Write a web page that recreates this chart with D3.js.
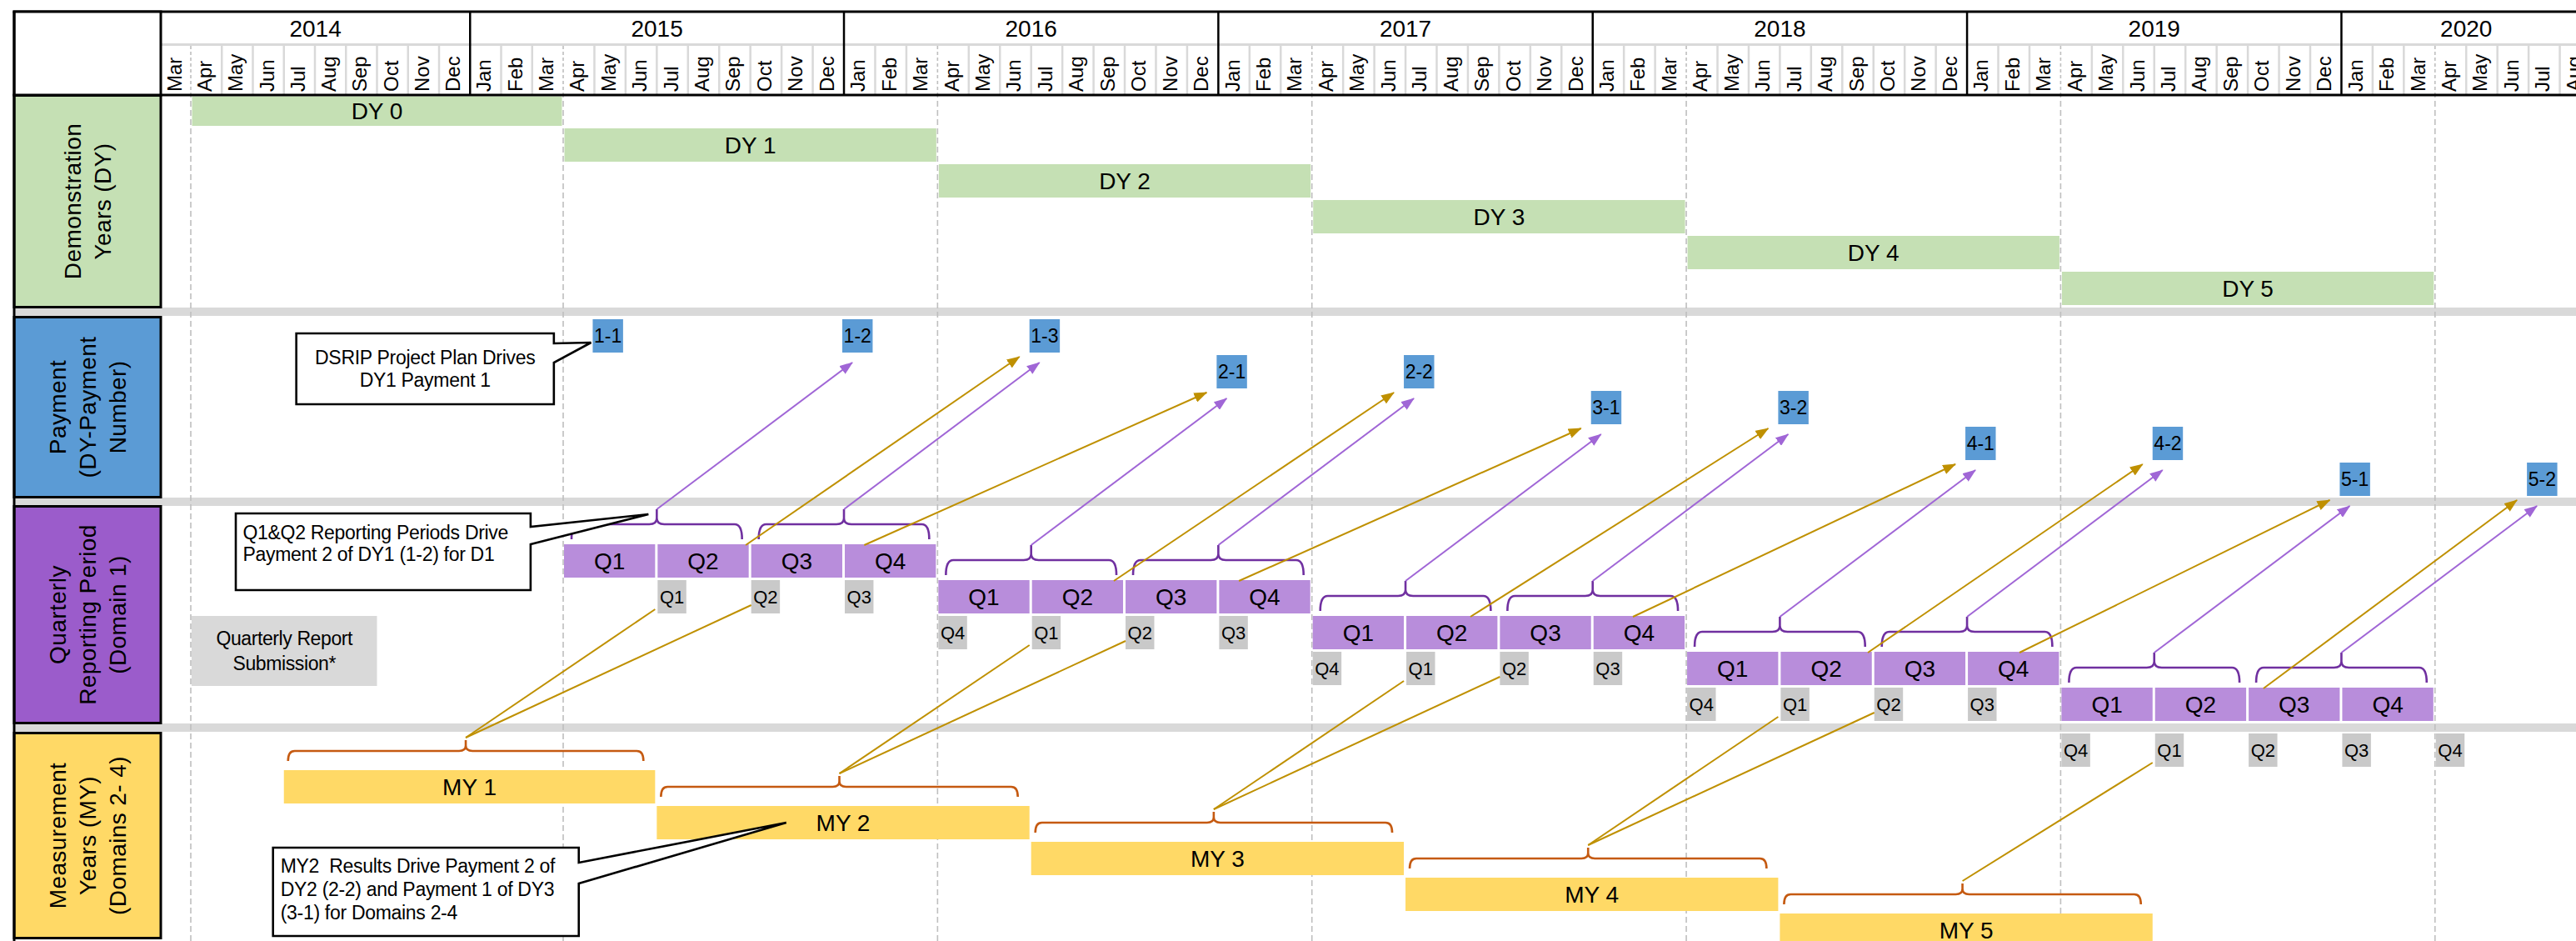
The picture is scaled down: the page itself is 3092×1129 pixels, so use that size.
<!DOCTYPE html>
<html>
<head>
<meta charset="utf-8">
<script src="https://cdn.jsdelivr.net/npm/d3@7/dist/d3.min.js"></script>
<style>
html,body{margin:0;padding:0;background:#fff;}
svg{display:block;}
text{font-family:"Liberation Sans",Arial,Helvetica,sans-serif;fill:#000;}
</style>
</head>
<body>
<svg id="chart" width="3092" height="1129"></svg>
<script>
// ---------------- data ----------------
const years = ["2014","2015","2016","2017","2018","2019","2020"];
const yearStartMonth = [0, 10, 22, 34, 46, 58, 70];
const yearEndMonth   = [10, 22, 34, 46, 58, 70, 78];
const monthNames = ["Jan","Feb","Mar","Apr","May","Jun","Jul","Aug","Sep","Oct","Nov","Dec"];
const firstMonthOfTimeline = 2;   // index 0 = Mar 2014
const monthCount = 78;            // Mar 2014 .. Aug 2020

const dyLabels = ["DY 0","DY 1","DY 2","DY 3","DY 4","DY 5"];
const dyStartMonth = [1, 13, 25, 37, 49, 61];
const dyLengthMonths = 12;

const quarterLabels = ["Q1","Q2","Q3","Q4"];
const quarterDY = [1, 2, 3, 4, 5];

const paymentLabels = ["1-1","1-2","1-3","2-1","2-2","3-1","3-2","4-1","4-2","5-1","5-2"];
const paymentMonth  = [14, 22, 28, 34, 40, 46, 52, 58, 64, 70, 76];
const paymentRow    = [0, 0, 0, 1, 1, 2, 2, 3, 3, 4, 4];

const reportLabels = ["Q1","Q2","Q3", "Q4","Q1","Q2","Q3", "Q4","Q1","Q2","Q3", "Q4","Q1","Q2","Q3", "Q4","Q1","Q2","Q3","Q4"];
const reportMonth  = [16,19,22, 25,28,31,34, 37,40,43,46, 49,52,55,58, 61,64,67,70,73];
const reportRow    = [1,1,1, 2,2,2,2, 3,3,3,3, 4,4,4,4, 5,5,5,5,5];

const myLabels = ["MY 1","MY 2","MY 3","MY 4","MY 5"];
const myStartMonth = [4, 16, 28, 40, 52];
const myLengthMonths = 12;

// purple arrows: quarter pair (half year) of a DY -> payment
const pairDY      = [1,1,2,2,3,3,4,4,5,5];
const pairHalf    = [0,1,0,1,0,1,0,1,0,1];
const pairPayment = ["1-2","1-3","2-1","2-2","3-1","3-2","4-1","4-2","5-1","5-2"];

// gold arrows: quarterly results -> payment
const goldDY        = [1,1,2,2,3,3,4,4,5];
const goldFromMonth = [18.85, 22.65, 30.65, 34.66, 42.08, 47.29, 54.82, 59.68, 67.5];
const goldPayment   = ["1-3","2-1","2-2","3-1","3-2","4-1","4-2","5-1","5-2"];

// gold lines: measurement year -> quarterly report submission (index into report arrays)
const myLinkMY     = [1,1,2,2,3,3,4,4,5];
const myLinkReport = [0,1,4,5,8,9,12,13,16];

const sectionLabels = [
  ["Demonstration","Years (DY)"],
  ["Payment","(DY-Payment","Number)"],
  ["Quarterly","Reporting Period","(Domain 1)"],
  ["Measurement","Years (MY)","(Domains 2- 4)"]
];
const callout1Lines = ["DSRIP Project Plan Drives","DY1 Payment 1"];
const callout2Lines = ["Q1&Q2 Reporting Periods Drive","Payment 2 of DY1 (1-2) for D1"];
const callout3Lines = ["MY2  Results Drive Payment 2 of","DY2 (2-2) and Payment 1 of DY3","(3-1) for Domains 2-4"];
const reportBoxLines = ["Quarterly Report","Submission*"];

// ---------------- layout ----------------
const W = 3092, H = 1129;
const LEFT = 17, COLR = 193, TOP = 14, HDR = 114;
const BH = 40;
const C = {
  green:"#C5E0B4", blue:"#5B9BD5", purpleDark:"#9B5CCB", purpleLight:"#B88DDB",
  yellow:"#FFD966", band:"#D9D9D9", repGray:"#C9C9C9", gold:"#BF9000",
  arrowPurple:"#A066D6", bracePurple:"#7030A0", braceOrange:"#C55A11", dash:"#BFBFBF"
};
const sectionColors = [C.green, C.blue, C.purpleDark, C.yellow];
const sectionRanges = [[114.5,368.5],[380.5,596.5],[607.5,867.5],[879.5,1125.5]];
const bandRanges = [[369,379],[597,607],[868,878]];

const x = d3.scaleLinear().domain([0,1,13,78]).range([193,229,676,3110]);
const yDY  = d3.scaleLinear().domain([0,5]).range([111,326]);
const yPay = d3.scaleLinear().domain([0,4]).range([383,555]);
const yQ   = d3.scaleLinear().domain([1,5]).range([653,825]);
const yRep = d3.scaleLinear().domain([1,4,5]).range([696,825,880]);
const yMY  = d3.scaleLinear().domain([1,5]).range([924,1096]);

const svg = d3.select("#chart");
svg.append("rect").attr("width",W).attr("height",H).attr("fill","#fff");
const defs = svg.append("defs");
defs.append("clipPath").attr("id","plotClip").append("rect")
  .attr("x",COLR).attr("y",HDR+1.5).attr("width",W-COLR).attr("height",H-HDR);
function marker(id,color){
  defs.append("marker").attr("id",id).attr("viewBox","0 0 16 12")
    .attr("refX",15).attr("refY",6).attr("markerWidth",16).attr("markerHeight",12)
    .attr("markerUnits","userSpaceOnUse").attr("orient","auto")
    .append("path").attr("d","M0,0 L16,6 L0,12 Z").attr("fill",color);
}
marker("mGold",C.gold);
marker("mPurple",C.arrowPurple);

// separator bands
svg.append("g").selectAll("rect").data(bandRanges).join("rect")
  .attr("x",LEFT).attr("y",d=>d[0]).attr("width",W-LEFT).attr("height",d=>d[1]-d[0]).attr("fill",C.band);

// dashed demonstration-year boundaries (April)
const monthIdx = d3.range(monthCount);
const monthName = i => monthNames[(i+firstMonthOfTimeline)%12];
const aprIdx = monthIdx.filter(i => monthName(i)==="Apr");
svg.append("g").selectAll("line").data(aprIdx).join("line")
  .attr("x1",d=>x(d)).attr("x2",d=>x(d)).attr("y1",55).attr("y2",H)
  .attr("stroke",C.dash).attr("stroke-width",1.6).attr("stroke-dasharray","7,4");

const plot = svg.append("g").attr("clip-path","url(#plotClip)");

function label(g, txt, cx, cy, fs){
  g.append("text").attr("x",cx).attr("y",cy+0.35*fs).attr("text-anchor","middle")
    .attr("font-size",fs).text(txt);
}

// DY bars
dyLabels.forEach((lab,i)=>{
  const x0 = x(dyStartMonth[i])+1.5, x1 = x(dyStartMonth[i]+dyLengthMonths)-1.5;
  const y0 = yDY(i);
  plot.append("rect").attr("x",x0).attr("y",y0).attr("width",x1-x0).attr("height",BH).attr("fill",C.green);
  const vis0 = Math.max(y0, HDR+1.5);
  label(plot, lab, (x0+x1)/2, (vis0+y0+BH)/2, 28);
});

// payment boxes
const payPos = {};
paymentLabels.forEach((lab,i)=>{
  const m = paymentMonth[i];
  const x0 = x(m)-2, w = x(m+1)-x(m)-1, y0 = yPay(paymentRow[i]);
  payPos[lab] = {x:x0, y:y0, w:w};
  plot.append("rect").attr("x",x0).attr("y",y0).attr("width",w).attr("height",BH).attr("fill",C.blue);
  label(plot, lab, x0+w/2, y0+BH/2, 23);
});

// quarterly reporting periods
quarterDY.forEach(k=>{
  quarterLabels.forEach((q,j)=>{
    const m = dyStartMonth[k]+3*j;
    const x0 = x(m)+1, x1 = x(m+3)-2, y0 = yQ(k);
    plot.append("rect").attr("x",x0).attr("y",y0).attr("width",x1-x0).attr("height",BH).attr("fill",C.purpleLight);
    label(plot, q, (x0+x1)/2, y0+BH/2, 28);
  });
});

// quarterly report submissions
const repPos = [];
reportLabels.forEach((lab,i)=>{
  const m = reportMonth[i];
  const x0 = x(m)+1, w = x(m+1)-x(m)-3, y0 = yRep(reportRow[i]);
  repPos.push({x:x0,y:y0,w:w,lab:lab});
  plot.append("rect").attr("x",x0).attr("y",y0).attr("width",w).attr("height",BH).attr("fill",C.repGray);
  label(plot, lab, x0+w/2, y0+BH/2, 22);
});

// measurement years
const myTip = [];
myLabels.forEach((lab,i)=>{
  const s = myStartMonth[i];
  const x0 = x(s), x1 = x(s+myLengthMonths)-2, y0 = yMY(i+1);
  plot.append("rect").attr("x",x0).attr("y",y0).attr("width",x1-x0).attr("height",BH).attr("fill",C.yellow);
  label(plot, lab, (x0+x1)/2, y0+BH/2, 28);
});

// legend box "Quarterly Report Submission*"
{
  const x0 = x(1)+1, x1 = x(7), y0 = yRep(2), y1 = yRep(2)+84;
  plot.append("rect").attr("x",x0).attr("y",y0).attr("width",x1-x0).attr("height",y1-y0).attr("fill",C.band);
  reportBoxLines.forEach((t,i)=>{
    plot.append("text").attr("x",(x0+x1)/2).attr("y",y0+35+30*i).attr("text-anchor","middle")
      .attr("font-size",23).attr("letter-spacing",-0.4).text(t);
  });
}

// braces
function bracePath(x1,x2,xm,yb,yh,yt,r){
  return `M${x1},${yb} Q${x1},${yh} ${x1+r},${yh} L${xm-r},${yh} Q${xm},${yh} ${xm},${yh-r*0.8} L${xm},${yt} `+
         `M${xm},${yh-r*0.8} Q${xm},${yh} ${xm+r},${yh} L${x2-r},${yh} Q${x2},${yh} ${x2},${yb}`;
}
const braceG = svg.append("g").attr("fill","none").attr("stroke-width",2.6).attr("stroke-linejoin","round");
const pairTip = {};
quarterDY.forEach(k=>{
  [0,1].forEach(h=>{
    const s = dyStartMonth[k]+6*h, e = s+6;
    const x1 = x(s)+10, x2 = x(e)-10, xm = (x(s)+x(e))/2, T = yQ(k);
    pairTip[k+"-"+h] = {x:xm, y:T-42};
    braceG.append("path").attr("d",bracePath(x1,x2,xm,T-6,T-24,T-42,9)).attr("stroke",C.bracePurple);
  });
});
myLabels.forEach((lab,i)=>{
  const s = myStartMonth[i], e = s+myLengthMonths;
  const x1 = x(s)+5, x2 = x(e)-16, xm = (x1+x2)/2, T = yMY(i+1);
  myTip.push({x:xm, y:T-36});
  braceG.append("path").attr("d",bracePath(x1,x2,xm,T-11,T-23,T-36,8)).attr("stroke",C.braceOrange);
});

// arrows & links
const arrowG = svg.append("g").attr("fill","none").attr("stroke-width",2);
// MY -> report submissions
myLinkMY.forEach((k,i)=>{
  const t = myTip[k-1], r = repPos[myLinkReport[i]];
  const isQ1 = r.lab==="Q1";
  arrowG.append("line").attr("x1",t.x).attr("y1",t.y-3)
    .attr("x2", isQ1 ? r.x-3 : r.x).attr("y2", r.y + (isQ1 ? 35 : 30))
    .attr("stroke",C.gold);
});
// quarterly results -> payments (gold)
goldDY.forEach((k,i)=>{
  const p = payPos[goldPayment[i]];
  arrowG.append("line").attr("x1",x(goldFromMonth[i])).attr("y1",yQ(k)+1)
    .attr("x2",p.x-12).attr("y2",p.y+BH+5)
    .attr("stroke",C.gold).attr("marker-end","url(#mGold)");
});
// quarter pairs -> payments (purple)
pairDY.forEach((k,i)=>{
  const t = pairTip[k+"-"+pairHalf[i]], p = payPos[pairPayment[i]];
  arrowG.append("line").attr("x1",t.x).attr("y1",t.y)
    .attr("x2",p.x+12).attr("y2",p.y+BH+12)
    .attr("stroke",C.arrowPurple).attr("marker-end","url(#mPurple)");
});

// callouts
function callout(x0,y0,x1,y1,ya,yb,tx,ty){
  return `M${x0},${y0} H${x1} V${ya} L${tx},${ty} L${x1},${yb} V${y1} H${x0} Z`;
}
const cg = svg.append("g");
{
  const p0 = yPay(0), tip = payPos["1-1"];
  const x0 = x(4.4), x1 = x(12.7), y0 = p0+17, y1 = p0+102;
  cg.append("path").attr("d",callout(x0,y0,x1,y1,p0+29,p0+52,tip.x-2,p0+28))
    .attr("fill","#fff").attr("stroke","#000").attr("stroke-width",2.6);
  callout1Lines.forEach((t,i)=>cg.append("text").attr("x",(x0+x1)/2).attr("y",y0+37+27*i)
    .attr("text-anchor","middle").attr("font-size",23).attr("letter-spacing",-0.3).text(t));
}
{
  const T = yQ(1), tip = pairTip["1-0"];
  const x0 = x(2.45), x1 = x(11.95), y0 = T-37, y1 = T+55;
  cg.append("path").attr("d",callout(x0,y0,x1,y1,T-21,T,tip.x-10,tip.y+6))
    .attr("fill","#fff").attr("stroke","#000").attr("stroke-width",2.6);
  callout2Lines.forEach((t,i)=>cg.append("text").attr("x",x0+8.5).attr("y",y0+31+26*i)
    .attr("font-size",23).attr("letter-spacing",-0.3).text(t));
}
{
  const T = yMY(2);
  const x0 = x(3.65), x1 = x(13.5), y0 = T+50, y1 = T+156;
  cg.append("path").attr("d",callout(x0,y0,x1,y1,T+68,T+93,x(20.15),T+20))
    .attr("fill","#fff").attr("stroke","#000").attr("stroke-width",2.6);
  callout3Lines.forEach((t,i)=>cg.append("text").attr("x",x0+9).attr("y",y0+30+28*i)
    .attr("font-size",23).attr("letter-spacing",-0.3).style("white-space","pre").text(t));
}

// ---------------- header ----------------
const hg = svg.append("g");
hg.append("rect").attr("x",COLR).attr("y",TOP).attr("width",W-COLR).attr("height",HDR-TOP).attr("fill","#fff");
// month separators
hg.selectAll("line.ms").data(monthIdx.filter(i=>i>0 && monthName(i)!=="Jan" && monthName(i)!=="Apr")).join("line")
  .attr("x1",d=>x(d)).attr("x2",d=>x(d)).attr("y1",55).attr("y2",HDR)
  .attr("stroke",C.band).attr("stroke-width",2.5);
hg.selectAll("line.ma").data(aprIdx).join("line")
  .attr("x1",d=>x(d)).attr("x2",d=>x(d)).attr("y1",55).attr("y2",HDR)
  .attr("stroke",C.dash).attr("stroke-width",1.6).attr("stroke-dasharray","4,3");
hg.append("line").attr("x1",COLR).attr("x2",W).attr("y1",53.5).attr("y2",53.5)
  .attr("stroke",C.band).attr("stroke-width",3);
// year boundaries
hg.selectAll("line.yb").data(yearStartMonth.slice(1)).join("line")
  .attr("x1",d=>x(d)).attr("x2",d=>x(d)).attr("y1",TOP).attr("y2",HDR)
  .attr("stroke","#000").attr("stroke-width",2.5);
// year labels
hg.selectAll("text.yl").data(years).join("text")
  .attr("x",(d,i)=>(x(yearStartMonth[i])+x(yearEndMonth[i]))/2).attr("y",44)
  .attr("text-anchor","middle").attr("font-size",28).text(d=>d);
// month labels
hg.selectAll("text.ml").data(monthIdx).join("text")
  .attr("transform",d=>`translate(${(x(d)+x(d+1))/2+6.5},110) rotate(-90)`)
  .attr("font-size",24).text(d=>monthName(d));
// frame lines
hg.append("line").attr("x1",LEFT-1.5).attr("x2",W).attr("y1",TOP).attr("y2",TOP).attr("stroke","#000").attr("stroke-width",3);
hg.append("line").attr("x1",LEFT-1.5).attr("x2",W).attr("y1",HDR).attr("y2",HDR).attr("stroke","#000").attr("stroke-width",3);

// ---------------- left column ----------------
const lg = svg.append("g");
lg.append("rect").attr("x",LEFT).attr("y",TOP).attr("width",COLR-LEFT).attr("height",HDR-TOP)
  .attr("fill","#fff").attr("stroke","#000").attr("stroke-width",3);
sectionLabels.forEach((lines,i)=>{
  const [y0,y1] = sectionRanges[i];
  lg.append("rect").attr("x",LEFT).attr("y",y0).attr("width",COLR-LEFT).attr("height",y1-y0)
    .attr("fill",sectionColors[i]).attr("stroke","#000").attr("stroke-width",3);
  const g = lg.append("g").attr("transform",`translate(${(LEFT+COLR)/2},${(y0+y1)/2}) rotate(-90)`);
  const n = lines.length;
  lines.forEach((t,j)=>{
    g.append("text").attr("x",0).attr("y",(j-(n-1)/2)*36+10).attr("text-anchor","middle")
      .attr("font-size",28).attr("letter-spacing",0.4).text(t);
  });
});
lg.append("line").attr("x1",LEFT).attr("x2",LEFT).attr("y1",TOP).attr("y2",H).attr("stroke","#000").attr("stroke-width",3);
</script>
</body>
</html>
